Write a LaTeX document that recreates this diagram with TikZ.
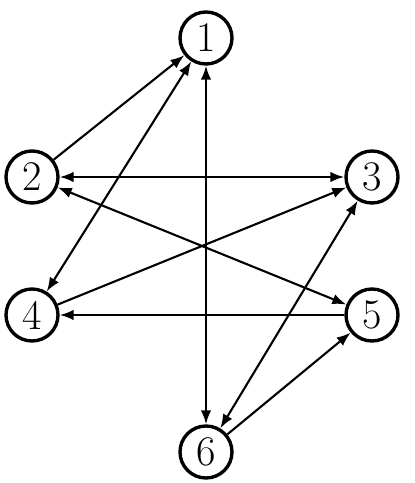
\documentclass[tikz,border=0pt]{standalone}
\usepackage{tikz}
\usetikzlibrary{arrows.meta}

\begin{document}
\begin{tikzpicture}[>={Latex[length=10pt,width=7.5pt]},
    vertex/.style={circle, draw, line width=2.4pt, minimum size=1.3cm, inner sep=0pt,
      font=\fontsize{30}{30}\selectfont},
    edge/.style={line width=1.5pt}]
            \useasboundingbox (0,0) rectangle (10.375,12.075);

            % 节点
            \node[vertex] (v1) at (5.15,11.125) {1};
            \node[vertex] (v2) at (0.8,7.65) {2};
            \node[vertex] (v3) at (9.3,7.65) {3};
            \node[vertex] (v4) at (0.8,4.2) {4};
            \node[vertex] (v5) at (9.3,4.2) {5};
            \node[vertex] (v6) at (5.15,0.775) {6};

            % 箭头
            \draw[edge, ->] (v2) -- (v1);
            \draw[edge, <->] (v1) -- (v4);
            \draw[edge, <->] (v1) -- (v6);
            \draw[edge, <->] (v2) -- (v3);
            \draw[edge, <->] (v2) -- (v5);
            \draw[edge, ->] (v4) -- (v3);
            \draw[edge, ->] (v5) -- (v4);
            \draw[edge, <->] (v3) -- (v6);
            \draw[edge, ->] (v6) -- (v5);
        \end{tikzpicture}
\end{document}
